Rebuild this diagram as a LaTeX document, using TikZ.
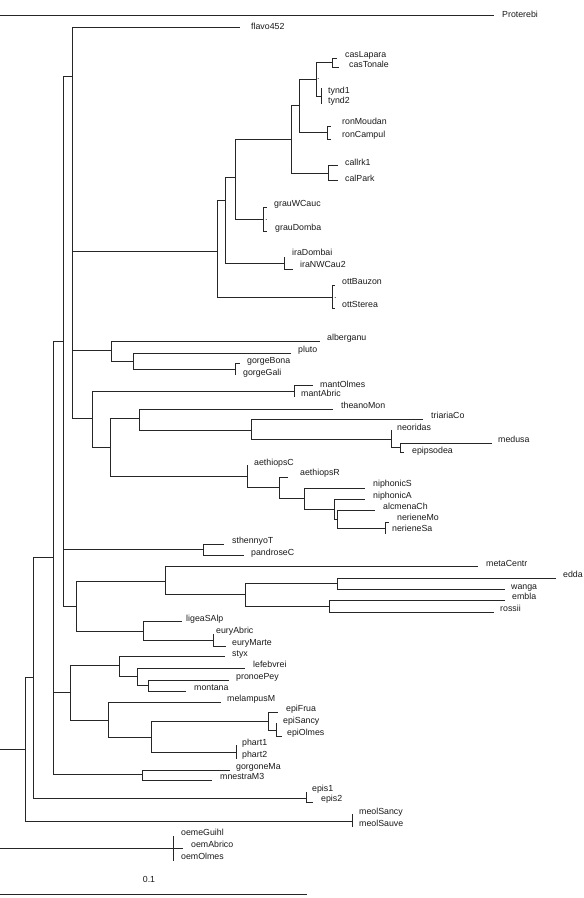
\documentclass[tikz,border=0pt]{standalone}
\usepackage{fontspec}
\setmainfont{Liberation Sans}
\newcommand\tnode[6]{\coordinate (#1) at (#3,#4); \draw[br] (#2 |- #1) -- (#1); \draw[br] (#3,#5) -- (#3,#6);}
\newcommand\tleaf[7]{\coordinate (#1) at (#3,#4); \draw[br] (#2 |- #1) -- (#1); \node[lab] (t#1) at (#5,#6) {#7};}
\begin{document}
\begin{tikzpicture}[x=1pt,y=-1pt,
 br/.style={line width=0.8pt,draw=black!85},
 lab/.style={anchor=west,inner sep=0pt,text height=6.4pt,text depth=1.8pt,font=\fontsize{8.8}{10}\selectfont,text=black!90}]
\useasboundingbox (0,0) rectangle (584,898);
\coordinate (r) at (0,749);
\tleaf{Prot}{r}{494}{15}{502}{15}{Proterebi}
\tnode{oem}{r}{173}{848}{836}{861}
\tleaf{oemG}{oem}{173}{836}{181}{833}{oemeGuihl}
\tleaf{oemA}{oem}{183}{848}{191}{845}{oemAbrico}
\tleaf{oemO}{oem}{173}{861}{181}{857}{oemOlmes}
\tnode{A}{r}{25}{749}{677}{821}
\tnode{meol}{A}{352}{821}{814}{827}
\tleaf{meolS}{meol}{352}{814}{359}{812}{meolSancy}
\tleaf{meolV}{meol}{352}{827}{359}{824}{meolSauve}
\tnode{B}{A}{33}{677}{557}{798}
\tnode{epis}{B}{306}{798}{792}{802}
\tleaf{episA}{epis}{306}{792}{312}{789}{epis1}
\tleaf{episB}{epis}{313}{802}{321}{799}{epis2}
\tnode{C}{B}{53}{557}{341}{774}
\tnode{gor}{C}{142}{774}{770}{780}
\tleaf{gorg}{gor}{230}{770}{236}{767}{gorgoneMa}
\tleaf{mnes}{gor}{212}{780}{220}{777}{mnestraM3}
\tnode{D}{C}{63}{341}{76}{606}
\tnode{F}{D}{72}{76}{27}{418}
\tleaf{flavo}{F}{240}{27}{251}{27}{flavo452}
\tnode{G}{F}{217}{251}{200}{297}
\tnode{H}{G}{225}{200}{177}{263}
\tnode{I}{H}{235}{177}{139}{219}
\tnode{J}{I}{291}{139}{105}{173}
\tnode{K}{J}{299}{105}{79}{132}
\tnode{L}{K}{316}{79}{62}{96}
\tnode{cas}{L}{332}{62}{58}{67}
\tleaf{casL}{cas}{337}{58}{345}{55}{casLapara}
\tleaf{casT}{cas}{339}{67}{349}{65}{casTonale}
\node[lab,anchor=base west] (dotA) at (317,79) {.};
\tnode{tynd}{L}{321}{96}{88}{104}
\tleaf{tyndA}{tynd}{321}{88}{328}{91}{tynd1}
\tleaf{tyndB}{tynd}{321}{104}{328}{101}{tynd2}
\tnode{ron}{K}{327}{132}{126}{139}
\tleaf{ronM}{ron}{331}{126}{342}{122}{ronMoudan}
\tleaf{ronC}{ron}{331}{139}{342}{135}{ronCampul}
\tnode{cal}{J}{328}{173}{165}{180}
\tleaf{calI}{cal}{338}{165}{345}{163}{callrk1}
\tleaf{calP}{cal}{338}{180}{345}{179}{calPark}
\tnode{grau}{I}{263}{219}{207}{231}
\tleaf{grauW}{grau}{267}{207}{274}{204}{grauWCauc}
\tleaf{grauD}{grau}{267}{231}{275}{228}{grauDomba}
\node[lab,anchor=base west] (dotB) at (265,220) {.};
\tnode{ira}{H}{284}{263}{257}{269}
\tleaf{iraD}{ira}{284}{257}{292}{253}{iraDombai}
\tleaf{iraN}{ira}{293}{269}{300}{265}{iraNWCau2}
\tnode{ott}{G}{332}{297}{285}{308}
\tleaf{ottB}{ott}{335}{285}{342}{282}{ottBauzon}
\tleaf{ottS}{ott}{335}{308}{342}{305}{ottSterea}
\node[lab,anchor=base west] (dotC) at (334,298) {.};
\tnode{Q}{F}{111}{350}{341}{361}
\tleaf{alb}{Q}{320}{341}{327}{338}{alberganu}
\tnode{R}{Q}{133}{361}{353}{369}
\tleaf{plu}{R}{291}{353}{298}{350}{pluto}
\tnode{gorge}{R}{235}{369}{363}{375}
\tleaf{gorB}{gorge}{240}{363}{247}{361}{gorgeBona}
\tleaf{gorG}{gorge}{235}{375}{243}{373}{gorgeGali}
\tnode{M}{F}{92}{418}{391}{447}
\tnode{mant}{M}{294}{391}{385}{397}
\tleaf{mantO}{mant}{313}{385}{320}{385}{mantOlmes}
\tleaf{mantA}{mant}{294}{397}{301}{394}{mantAbric}
\tnode{N}{M}{110}{447}{418}{476}
\tnode{P}{N}{139}{418}{409}{430}
\tleaf{thea}{P}{333}{409}{341}{406}{theanoMon}
\tnode{T}{P}{251}{430}{419}{439}
\tleaf{tria}{T}{423}{419}{431}{416}{triariaCo}
\tnode{U}{T}{391}{439}{430}{447}
\tleaf{neor}{U}{391}{430}{397}{428}{neoridas}
\tnode{V}{U}{400}{447}{443}{452}
\tleaf{medu}{V}{492}{443}{498}{440}{medusa}
\tleaf{epip}{V}{404}{452}{412}{451}{epipsodea}
\tnode{S}{N}{247}{476}{465}{487}
\tleaf{aetC}{S}{247}{465}{254}{463}{aethiopsC}
\tnode{W}{S}{279}{487}{477}{498}
\tleaf{aetR}{W}{288}{477}{300}{473}{aethiopsR}
\tnode{X}{W}{304}{498}{488}{509}
\tleaf{nipS}{X}{365}{488}{373}{484}{niphonicS}
\tnode{Y}{X}{334}{509}{499}{519}
\tleaf{nipA}{Y}{365}{499}{373}{496}{niphonicA}
\tnode{Z}{Y}{337}{519}{510}{528}
\tleaf{alcm}{Z}{375}{510}{383}{507}{alcmenaCh}
\tnode{ner}{Z}{385}{528}{522}{534}
\tleaf{nerM}{ner}{389}{522}{397}{518}{nerieneMo}
\tleaf{nerS}{ner}{385}{534}{392}{529}{nerieneSa}
\tnode{sth}{D}{203}{549}{544}{555}
\tleaf{sthe}{sth}{224}{544}{232}{541}{sthennyoT}
\tleaf{pand}{sth}{244}{555}{251}{553}{pandroseC}
\tnode{AA}{D}{76}{606}{581}{631}
\tnode{BB}{AA}{165}{581}{566}{594}
\tleaf{meta}{BB}{478}{566}{486}{564}{metaCentr}
\tnode{DD}{BB}{245}{594}{583}{606}
\tnode{EE}{DD}{337}{583}{578}{589}
\tleaf{edda}{EE}{556}{578}{563}{575}{edda}
\tleaf{wang}{EE}{505}{589}{511}{587}{wanga}
\tnode{FF}{DD}{329}{606}{600}{612}
\tleaf{embl}{FF}{505}{600}{512}{597}{embla}
\tleaf{ross}{FF}{494}{612}{500}{609}{rossii}
\tnode{CC}{AA}{143}{631}{621}{640}
\tleaf{lige}{CC}{182}{621}{186}{619}{ligeaSAlp}
\tnode{eury}{CC}{213}{640}{634}{646}
\tleaf{euryA}{eury}{213}{634}{216}{631}{euryAbric}
\tleaf{euryM}{eury}{226}{646}{232}{643}{euryMarte}
\tnode{E}{C}{70}{692}{665}{720}
\tnode{GG}{E}{119}{665}{656}{676}
\tleaf{styx}{GG}{225}{656}{232}{654}{styx}
\tnode{II}{GG}{137}{676}{668}{685}
\tleaf{lefe}{II}{245}{668}{253}{665}{lefebvrei}
\tnode{JJ}{II}{148}{685}{680}{691}
\tleaf{pron}{JJ}{229}{680}{236}{677}{pronoePey}
\tleaf{mont}{JJ}{186}{691}{194}{688}{montana}
\tnode{HH}{E}{108}{720}{702}{737}
\tleaf{mela}{HH}{221}{702}{227}{699}{melampusM}
\tnode{KK}{HH}{151}{737}{721}{752}
\tnode{LL}{KK}{268}{721}{712}{730}
\tleaf{epiF}{LL}{278}{712}{286}{709}{epiFrua}
\tnode{MM}{LL}{276}{730}{723}{736}
\tleaf{epiS}{MM}{276}{723}{283}{721}{epiSancy}
\tleaf{epiO}{MM}{282}{736}{287}{733}{epiOlmes}
\tnode{ph}{KK}{236}{752}{745}{759}
\tleaf{phA}{ph}{236}{745}{242}{743}{phart1}
\tleaf{phB}{ph}{236}{759}{242}{755}{phart2}
\coordinate (sbL) at (0,894);
\coordinate (sbR) at (307,894);
\draw[br] (sbL) -- (sbR);
\node[lab,anchor=center] (sbt) at (149,880) {0.1};
\end{tikzpicture}
\end{document}
